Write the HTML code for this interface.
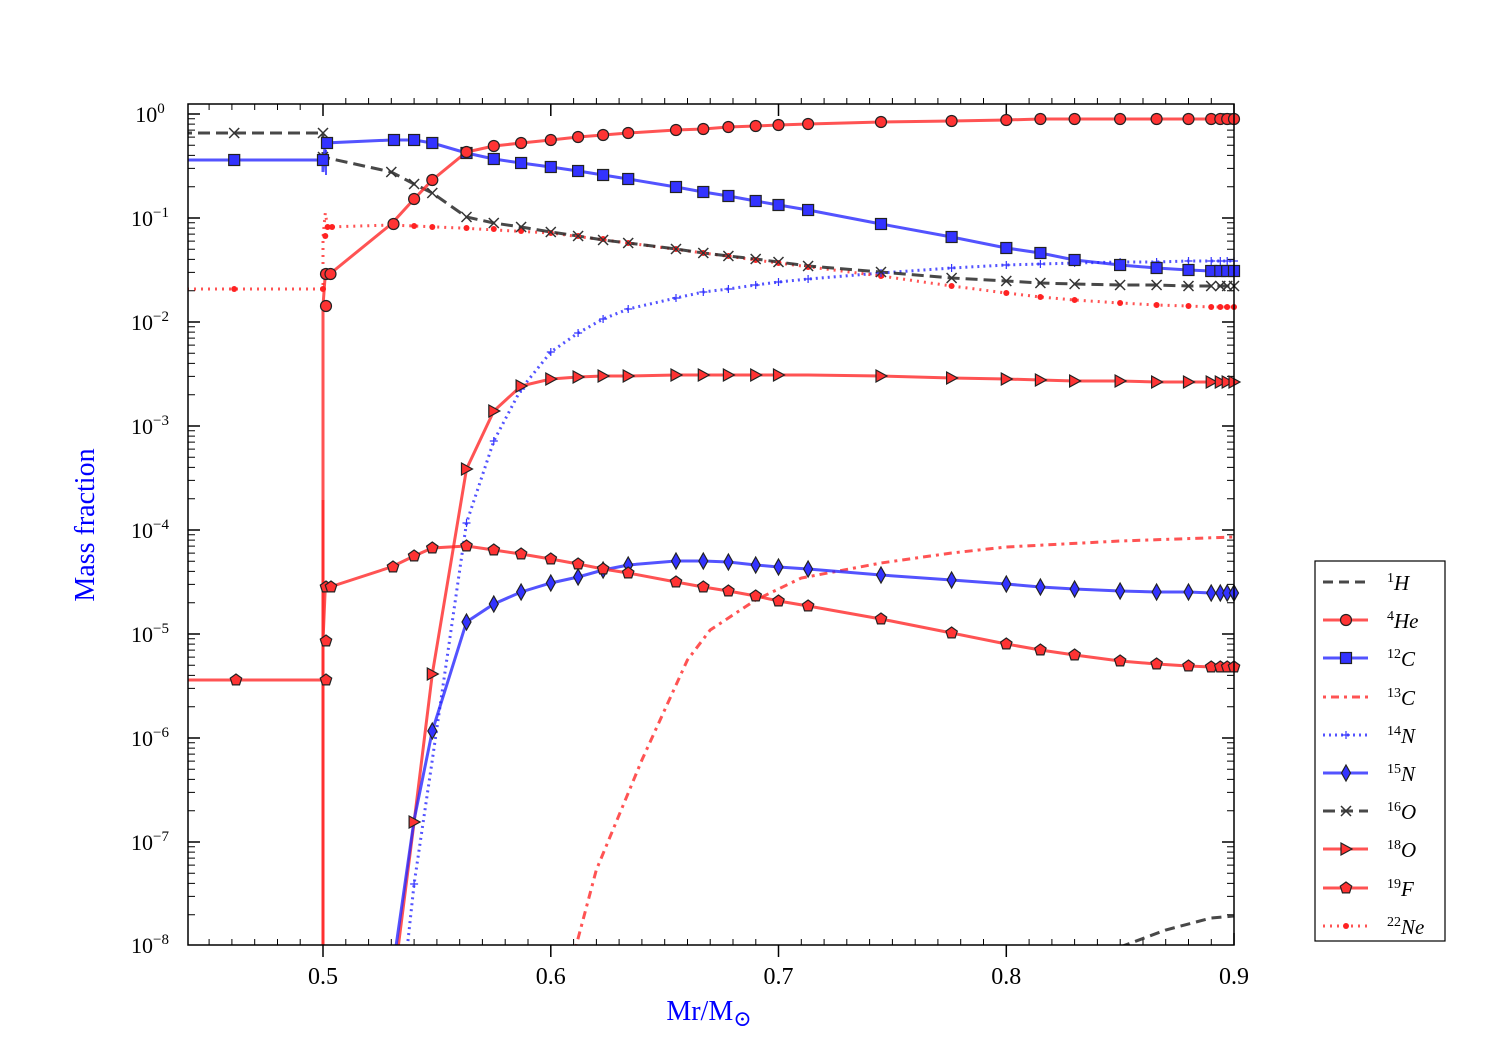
<!DOCTYPE html>
<html><head><meta charset="utf-8"><style>
html,body{margin:0;padding:0;background:#fff;width:1500px;height:1050px;overflow:hidden}
svg{font-family:"Liberation Serif","DejaVu Serif",serif;display:block}
</style></head><body>
<svg width="1500" height="1050" xmlns="http://www.w3.org/2000/svg" xmlns:xlink="http://www.w3.org/1999/xlink">
<defs>
<clipPath id="c"><rect x="188" y="104" width="1046" height="841"/></clipPath>
<circle id="o" r="5.5" fill="#f33" stroke="#222" stroke-width="1.2"/>
<rect id="s" x="-5.5" y="-5.5" width="11" height="11" fill="#33f" stroke="#222" stroke-width="1.2"/>
<polygon id="d" points="0,-8 4.5,0 0,8 -4.5,0" fill="#33f" stroke="#222" stroke-width="1.2"/>
<polygon id="t" points="-5,-6 6,0 -5,6" fill="#f33" stroke="#222" stroke-width="1.2"/>
<polygon id="p" points="0,-6 5.71,-1.85 3.53,4.85 -3.53,4.85 -5.71,-1.85" fill="#f33" stroke="#222" stroke-width="1.2"/>
<path id="x" d="M-5,-5L5,5M-5,5L5,-5" stroke="#333" stroke-width="1.5"/>
<path id="pl" d="M-4,0L4,0M0,-4L0,4" stroke="#33f" stroke-width="1.2"/>
<circle id="dt" r="3" fill="#f22"/>
<g id="dec" stroke="#000">
<path d="M188,0h12M1234,0h-12" stroke-width="1.5"/>
<path d="M188,72.7h7M188,54.4h7M188,41.4h7M188,31.3h7M188,23.1h7M188,16.1h7M188,10.1h7M188,4.8h7M1234,72.7h-7M1234,54.4h-7M1234,41.4h-7M1234,31.3h-7M1234,23.1h-7M1234,16.1h-7M1234,10.1h-7M1234,4.8h-7"/>
</g>
<g id="xm" stroke="#000">
<path d="M0,0v12M0,-841v12" stroke-width="1.5"/>
<path d="M22.8,0v6M45.6,0v6M68.3,0v6M91.1,0v6M113.9,0v6M136.7,0v6M159.4,0v6M182.2,0v6M205,0v6M22.8,-841v6M45.6,-841v6M68.3,-841v6M91.1,-841v6M113.9,-841v6M136.7,-841v6M159.4,-841v6M182.2,-841v6M205,-841v6" transform="translate(0,-6)"/>
</g>
</defs>

<!-- y ticks -->
<use href="#dec" xlink:href="#dec" y="114"/>
<use href="#dec" xlink:href="#dec" y="218"/>
<use href="#dec" xlink:href="#dec" y="322"/>
<use href="#dec" xlink:href="#dec" y="426"/>
<use href="#dec" xlink:href="#dec" y="530"/>
<use href="#dec" xlink:href="#dec" y="634"/>
<use href="#dec" xlink:href="#dec" y="738"/>
<use href="#dec" xlink:href="#dec" y="842"/>
<g font-size="22" text-anchor="middle">
<text x="150" y="122">10<tspan dy="-9" font-size="15">0</tspan></text>
<text x="150" y="226">10<tspan dy="-9" font-size="15">−1</tspan></text>
<text x="150" y="330">10<tspan dy="-9" font-size="15">−2</tspan></text>
<text x="150" y="434">10<tspan dy="-9" font-size="15">−3</tspan></text>
<text x="150" y="538">10<tspan dy="-9" font-size="15">−4</tspan></text>
<text x="150" y="642">10<tspan dy="-9" font-size="15">−5</tspan></text>
<text x="150" y="746">10<tspan dy="-9" font-size="15">−6</tspan></text>
<text x="150" y="850">10<tspan dy="-9" font-size="15">−7</tspan></text>
<text x="150" y="953">10<tspan dy="-9" font-size="15">−8</tspan></text>
</g>
<!-- x ticks -->
<use href="#xm" xlink:href="#xm" x="323" y="945"/>
<use href="#xm" xlink:href="#xm" x="550.8" y="945"/>
<use href="#xm" xlink:href="#xm" x="778.5" y="945"/>
<use href="#xm" xlink:href="#xm" x="1006.3" y="945"/>
<path d="M1234,945v-12M1234,104v12" stroke="#000" stroke-width="1.5"/>
<path d="M300.2,945v-6M277.5,945v-6M254.7,945v-6M231.9,945v-6M209.1,945v-6M300.2,104v6M277.5,104v6M254.7,104v6M231.9,104v6M209.1,104v6" stroke="#000"/>
<g font-size="24" text-anchor="middle">
<text x="323" y="984">0.5</text><text x="550.8" y="984">0.6</text><text x="778.5" y="984">0.7</text><text x="1006.3" y="984">0.8</text><text x="1234" y="984">0.9</text>
</g>

<g clip-path="url(#c)" fill="none" stroke-width="3">
<!-- 1H -->
<polyline stroke="rgba(40,40,40,0.85)" stroke-dasharray="10,6" points="1120.1,947 1165.7,930 1211.2,918 1234,916"/>
<!-- 13C -->
<polyline stroke="rgba(255,40,40,0.8)" stroke-dasharray="3,5,8,5" points="575.8,947 596.3,870 641.9,760 687.4,660 710.2,630 755.7,600 801.3,578 881,563 951.6,553 1006.3,547 1120.1,541 1234,537"/>
<!-- 14N -->
<polyline stroke="rgba(40,40,255,0.8)" stroke-dasharray="2,4" points="407.3,947 414.1,884 432.3,760 466.5,523 493.8,441 521.1,389 550.8,352 578.1,333 603.1,319 628.2,309 676,298 703.3,292 728.4,289 755.7,285 778.5,282 808.1,279 881,273 951.6,268 1006.3,265 1040.4,264 1074.6,263 1120.1,262 1156.6,262 1188.5,261 1234,261"/>
<!-- 22Ne -->
<polyline stroke="rgba(255,40,40,0.8)" stroke-dasharray="2,5" points="180,289 323,289 323,237 325.3,213 327.6,227 391.3,225 459.7,228 550.8,233 628.2,243 703.3,253 778.5,263 881,276 951.6,286 1006.3,293 1040.4,297 1074.6,300 1120.1,303 1156.6,305 1188.5,306 1211.2,307 1234,307"/>
<!-- 16O -->
<polyline stroke="rgba(40,40,40,0.85)" stroke-dasharray="12,6" points="180,133 323,133 323,157 391.3,172 414.1,184 432.3,193 466.5,217 493.8,223 521.1,227 550.8,232 578.1,236 603.1,240 628.2,243 676,249 703.3,253 728.4,256 755.7,259 778.5,262 808.1,266 881,272 951.6,278 1006.3,281 1040.4,283 1074.6,284 1120.1,285 1156.6,285 1188.5,286 1234,286"/>
<!-- 12C -->
<polyline stroke="rgba(40,40,255,0.8)" points="180,160 323,160 323,172 325.3,143 391.3,140 414.1,140 432.3,143 466.5,153 493.8,159 521.1,163 550.8,167 578.1,171 603.1,175 628.2,179 676,187 703.3,192 728.4,196 755.7,201 778.5,205 808.1,210 881,224 951.6,237 1006.3,248 1040.4,253 1074.6,260 1120.1,265 1156.6,268 1188.5,270 1211.2,271 1234,271"/>
<!-- 4He -->
<polyline stroke="rgba(255,40,40,0.8)" points="323,947 323,306 325.3,274 329.8,274 391.3,224 414.1,199 432.3,180 466.5,152 493.8,146 521.1,143 550.8,140 578.1,137 603.1,135 628.2,133 676,130 703.3,129 728.4,127 755.7,126 778.5,125 808.1,124 881,122 951.6,121 1006.3,120 1040.4,119 1234,119"/>
<!-- 18O -->
<polyline stroke="rgba(255,40,40,0.8)" points="398.2,947 414.1,822 432.3,674 466.5,469 493.8,411 521.1,386 550.8,379 578.1,377 603.1,376 628.2,376 676,375 808.1,375 881,376 951.6,378 1006.3,379 1040.4,380 1074.6,381 1120.1,381 1156.6,382 1234,382"/>
<!-- 15N -->
<polyline stroke="rgba(40,40,255,0.8)" points="395.9,947 414.1,820 432.3,731 466.5,622 493.8,604 521.1,592 550.8,583 578.1,577 603.1,570 628.2,565 676,561 703.3,561 728.4,562 755.7,565 778.5,567 808.1,569 881,575 951.6,580 1006.3,584 1040.4,587 1074.6,589 1120.1,591 1156.6,592 1188.5,592 1211.2,593 1234,593"/>
<!-- 19F -->
<polyline stroke="rgba(255,40,40,0.8)" points="180,680 323,680 323,947 323,500 323,641 325.3,587 329.8,587 391.3,567 414.1,556 432.3,548 466.5,546 493.8,550 521.1,554 550.8,559 578.1,564 603.1,569 628.2,573 676,582 703.3,587 728.4,591 755.7,596 778.5,601 808.1,606 881,619 951.6,633 1006.3,644 1040.4,650 1074.6,655 1120.1,661 1156.6,664 1188.5,666 1211.2,667 1234,667"/>
<line x1="326" y1="150" x2="326" y2="175" stroke="rgba(40,40,255,0.8)" stroke-width="2"/>
</g>

<!-- markers -->
<g>
<!-- 22Ne dots -->
<use href="#dt" xlink:href="#dt" x="234.2" y="289"/><use href="#dt" xlink:href="#dt" x="323" y="289"/><use href="#dt" xlink:href="#dt" x="325.3" y="236"/><use href="#dt" xlink:href="#dt" x="327.6" y="227"/><use href="#dt" xlink:href="#dt" x="332.1" y="227"/><use href="#dt" xlink:href="#dt" x="391.3" y="225"/><use href="#dt" xlink:href="#dt" x="414.1" y="226"/><use href="#dt" xlink:href="#dt" x="432.3" y="227"/><use href="#dt" xlink:href="#dt" x="466.5" y="228"/><use href="#dt" xlink:href="#dt" x="493.8" y="229"/><use href="#dt" xlink:href="#dt" x="521.1" y="231"/><use href="#dt" xlink:href="#dt" x="550.8" y="233"/><use href="#dt" xlink:href="#dt" x="578.1" y="236"/><use href="#dt" xlink:href="#dt" x="603.1" y="239"/><use href="#dt" xlink:href="#dt" x="628.2" y="243"/><use href="#dt" xlink:href="#dt" x="676" y="249"/><use href="#dt" xlink:href="#dt" x="703.3" y="253"/><use href="#dt" xlink:href="#dt" x="728.4" y="256"/><use href="#dt" xlink:href="#dt" x="755.7" y="260"/><use href="#dt" xlink:href="#dt" x="778.5" y="263"/><use href="#dt" xlink:href="#dt" x="808.1" y="267"/><use href="#dt" xlink:href="#dt" x="881" y="276"/><use href="#dt" xlink:href="#dt" x="951.6" y="286"/><use href="#dt" xlink:href="#dt" x="1006.3" y="293"/><use href="#dt" xlink:href="#dt" x="1040.4" y="297"/><use href="#dt" xlink:href="#dt" x="1074.6" y="300"/><use href="#dt" xlink:href="#dt" x="1120.1" y="303"/><use href="#dt" xlink:href="#dt" x="1156.6" y="305"/><use href="#dt" xlink:href="#dt" x="1188.5" y="306"/><use href="#dt" xlink:href="#dt" x="1211.2" y="307"/><use href="#dt" xlink:href="#dt" x="1220.3" y="307"/><use href="#dt" xlink:href="#dt" x="1227.2" y="307"/><use href="#dt" xlink:href="#dt" x="1234" y="307"/>
<!-- 14N plus -->
<use href="#pl" xlink:href="#pl" x="414.1" y="884"/><use href="#pl" xlink:href="#pl" x="466.5" y="523"/><use href="#pl" xlink:href="#pl" x="493.8" y="441"/><use href="#pl" xlink:href="#pl" x="521.1" y="389"/><use href="#pl" xlink:href="#pl" x="550.8" y="352"/><use href="#pl" xlink:href="#pl" x="578.1" y="333"/><use href="#pl" xlink:href="#pl" x="603.1" y="319"/><use href="#pl" xlink:href="#pl" x="628.2" y="309"/><use href="#pl" xlink:href="#pl" x="676" y="298"/><use href="#pl" xlink:href="#pl" x="703.3" y="292"/><use href="#pl" xlink:href="#pl" x="728.4" y="289"/><use href="#pl" xlink:href="#pl" x="755.7" y="285"/><use href="#pl" xlink:href="#pl" x="778.5" y="282"/><use href="#pl" xlink:href="#pl" x="808.1" y="279"/><use href="#pl" xlink:href="#pl" x="881" y="273"/><use href="#pl" xlink:href="#pl" x="951.6" y="268"/><use href="#pl" xlink:href="#pl" x="1006.3" y="265"/><use href="#pl" xlink:href="#pl" x="1040.4" y="264"/><use href="#pl" xlink:href="#pl" x="1074.6" y="263"/><use href="#pl" xlink:href="#pl" x="1120.1" y="262"/><use href="#pl" xlink:href="#pl" x="1156.6" y="262"/><use href="#pl" xlink:href="#pl" x="1188.5" y="261"/><use href="#pl" xlink:href="#pl" x="1211.2" y="261"/><use href="#pl" xlink:href="#pl" x="1220.3" y="261"/><use href="#pl" xlink:href="#pl" x="1227.2" y="261"/><use href="#pl" xlink:href="#pl" x="1234" y="261"/>
<!-- 16O x -->
<use href="#x" xlink:href="#x" x="234.2" y="133"/><use href="#x" xlink:href="#x" x="323" y="133"/><use href="#x" xlink:href="#x" x="323" y="157"/><use href="#x" xlink:href="#x" x="391.3" y="172"/><use href="#x" xlink:href="#x" x="414.1" y="184"/><use href="#x" xlink:href="#x" x="432.3" y="193"/><use href="#x" xlink:href="#x" x="466.5" y="217"/><use href="#x" xlink:href="#x" x="493.8" y="223"/><use href="#x" xlink:href="#x" x="521.1" y="227"/><use href="#x" xlink:href="#x" x="550.8" y="232"/><use href="#x" xlink:href="#x" x="578.1" y="236"/><use href="#x" xlink:href="#x" x="603.1" y="240"/><use href="#x" xlink:href="#x" x="628.2" y="243"/><use href="#x" xlink:href="#x" x="676" y="249"/><use href="#x" xlink:href="#x" x="703.3" y="253"/><use href="#x" xlink:href="#x" x="728.4" y="256"/><use href="#x" xlink:href="#x" x="755.7" y="259"/><use href="#x" xlink:href="#x" x="778.5" y="262"/><use href="#x" xlink:href="#x" x="808.1" y="266"/><use href="#x" xlink:href="#x" x="881" y="272"/><use href="#x" xlink:href="#x" x="951.6" y="278"/><use href="#x" xlink:href="#x" x="1006.3" y="281"/><use href="#x" xlink:href="#x" x="1040.4" y="283"/><use href="#x" xlink:href="#x" x="1074.6" y="284"/><use href="#x" xlink:href="#x" x="1120.1" y="285"/><use href="#x" xlink:href="#x" x="1156.6" y="285"/><use href="#x" xlink:href="#x" x="1188.5" y="286"/><use href="#x" xlink:href="#x" x="1211.2" y="286"/><use href="#x" xlink:href="#x" x="1220.3" y="286"/><use href="#x" xlink:href="#x" x="1227.2" y="286"/><use href="#x" xlink:href="#x" x="1234" y="286"/>
<!-- 12C squares -->
<use href="#s" xlink:href="#s" x="234.2" y="160"/><use href="#s" xlink:href="#s" x="323" y="160"/><use href="#s" xlink:href="#s" x="327" y="143"/><use href="#s" xlink:href="#s" x="394" y="140"/><use href="#s" xlink:href="#s" x="414.1" y="140"/><use href="#s" xlink:href="#s" x="432.3" y="143"/><use href="#s" xlink:href="#s" x="466.5" y="153"/><use href="#s" xlink:href="#s" x="493.8" y="159"/><use href="#s" xlink:href="#s" x="521.1" y="163"/><use href="#s" xlink:href="#s" x="550.8" y="167"/><use href="#s" xlink:href="#s" x="578.1" y="171"/><use href="#s" xlink:href="#s" x="603.1" y="175"/><use href="#s" xlink:href="#s" x="628.2" y="179"/><use href="#s" xlink:href="#s" x="676" y="187"/><use href="#s" xlink:href="#s" x="703.3" y="192"/><use href="#s" xlink:href="#s" x="728.4" y="196"/><use href="#s" xlink:href="#s" x="755.7" y="201"/><use href="#s" xlink:href="#s" x="778.5" y="205"/><use href="#s" xlink:href="#s" x="808.1" y="210"/><use href="#s" xlink:href="#s" x="881" y="224"/><use href="#s" xlink:href="#s" x="951.6" y="237"/><use href="#s" xlink:href="#s" x="1006.3" y="248"/><use href="#s" xlink:href="#s" x="1040.4" y="253"/><use href="#s" xlink:href="#s" x="1074.6" y="260"/><use href="#s" xlink:href="#s" x="1120.1" y="265"/><use href="#s" xlink:href="#s" x="1156.6" y="268"/><use href="#s" xlink:href="#s" x="1188.5" y="270"/><use href="#s" xlink:href="#s" x="1211.2" y="271"/><use href="#s" xlink:href="#s" x="1220.3" y="271"/><use href="#s" xlink:href="#s" x="1227.2" y="271"/><use href="#s" xlink:href="#s" x="1234" y="271"/>
<!-- 4He circles -->
<use href="#o" xlink:href="#o" x="326" y="306"/><use href="#o" xlink:href="#o" x="326" y="274"/><use href="#o" xlink:href="#o" x="330.5" y="274"/><use href="#o" xlink:href="#o" x="393.5" y="224"/><use href="#o" xlink:href="#o" x="414.1" y="199"/><use href="#o" xlink:href="#o" x="432.3" y="180"/><use href="#o" xlink:href="#o" x="466.5" y="152"/><use href="#o" xlink:href="#o" x="493.8" y="146"/><use href="#o" xlink:href="#o" x="521.1" y="143"/><use href="#o" xlink:href="#o" x="550.8" y="140"/><use href="#o" xlink:href="#o" x="578.1" y="137"/><use href="#o" xlink:href="#o" x="603.1" y="135"/><use href="#o" xlink:href="#o" x="628.2" y="133"/><use href="#o" xlink:href="#o" x="676" y="130"/><use href="#o" xlink:href="#o" x="703.3" y="129"/><use href="#o" xlink:href="#o" x="728.4" y="127"/><use href="#o" xlink:href="#o" x="755.7" y="126"/><use href="#o" xlink:href="#o" x="778.5" y="125"/><use href="#o" xlink:href="#o" x="808.1" y="124"/><use href="#o" xlink:href="#o" x="881" y="122"/><use href="#o" xlink:href="#o" x="951.6" y="121"/><use href="#o" xlink:href="#o" x="1006.3" y="120"/><use href="#o" xlink:href="#o" x="1040.4" y="119"/><use href="#o" xlink:href="#o" x="1074.6" y="119"/><use href="#o" xlink:href="#o" x="1120.1" y="119"/><use href="#o" xlink:href="#o" x="1156.6" y="119"/><use href="#o" xlink:href="#o" x="1188.5" y="119"/><use href="#o" xlink:href="#o" x="1211.2" y="119"/><use href="#o" xlink:href="#o" x="1220.3" y="119"/><use href="#o" xlink:href="#o" x="1227.2" y="119"/><use href="#o" xlink:href="#o" x="1234" y="119"/>
<!-- 18O triangles -->
<use href="#t" xlink:href="#t" x="414.1" y="822"/><use href="#t" xlink:href="#t" x="432.3" y="674"/><use href="#t" xlink:href="#t" x="466.5" y="469"/><use href="#t" xlink:href="#t" x="493.8" y="411"/><use href="#t" xlink:href="#t" x="521.1" y="386"/><use href="#t" xlink:href="#t" x="550.8" y="379"/><use href="#t" xlink:href="#t" x="578.1" y="377"/><use href="#t" xlink:href="#t" x="603.1" y="376"/><use href="#t" xlink:href="#t" x="628.2" y="376"/><use href="#t" xlink:href="#t" x="676" y="375"/><use href="#t" xlink:href="#t" x="703.3" y="375"/><use href="#t" xlink:href="#t" x="728.4" y="375"/><use href="#t" xlink:href="#t" x="755.7" y="375"/><use href="#t" xlink:href="#t" x="778.5" y="375"/><use href="#t" xlink:href="#t" x="881" y="376"/><use href="#t" xlink:href="#t" x="951.6" y="378"/><use href="#t" xlink:href="#t" x="1006.3" y="379"/><use href="#t" xlink:href="#t" x="1040.4" y="380"/><use href="#t" xlink:href="#t" x="1074.6" y="381"/><use href="#t" xlink:href="#t" x="1120.1" y="381"/><use href="#t" xlink:href="#t" x="1156.6" y="382"/><use href="#t" xlink:href="#t" x="1188.5" y="382"/><use href="#t" xlink:href="#t" x="1211.2" y="382"/><use href="#t" xlink:href="#t" x="1220.3" y="382"/><use href="#t" xlink:href="#t" x="1227.2" y="382"/><use href="#t" xlink:href="#t" x="1234" y="382"/>
<!-- 15N diamonds -->
<use href="#d" xlink:href="#d" x="432.3" y="731"/><use href="#d" xlink:href="#d" x="466.5" y="622"/><use href="#d" xlink:href="#d" x="493.8" y="604"/><use href="#d" xlink:href="#d" x="521.1" y="592"/><use href="#d" xlink:href="#d" x="550.8" y="583"/><use href="#d" xlink:href="#d" x="578.1" y="577"/><use href="#d" xlink:href="#d" x="603.1" y="570"/><use href="#d" xlink:href="#d" x="628.2" y="565"/><use href="#d" xlink:href="#d" x="676" y="561"/><use href="#d" xlink:href="#d" x="703.3" y="561"/><use href="#d" xlink:href="#d" x="728.4" y="562"/><use href="#d" xlink:href="#d" x="755.7" y="565"/><use href="#d" xlink:href="#d" x="778.5" y="567"/><use href="#d" xlink:href="#d" x="808.1" y="569"/><use href="#d" xlink:href="#d" x="881" y="575"/><use href="#d" xlink:href="#d" x="951.6" y="580"/><use href="#d" xlink:href="#d" x="1006.3" y="584"/><use href="#d" xlink:href="#d" x="1040.4" y="587"/><use href="#d" xlink:href="#d" x="1074.6" y="589"/><use href="#d" xlink:href="#d" x="1120.1" y="591"/><use href="#d" xlink:href="#d" x="1156.6" y="592"/><use href="#d" xlink:href="#d" x="1188.5" y="592"/><use href="#d" xlink:href="#d" x="1211.2" y="593"/><use href="#d" xlink:href="#d" x="1220.3" y="593"/><use href="#d" xlink:href="#d" x="1227.2" y="593"/><use href="#d" xlink:href="#d" x="1234" y="593"/>
<!-- 19F pentagons -->
<use href="#p" xlink:href="#p" x="236" y="680"/><use href="#p" xlink:href="#p" x="326" y="680"/><use href="#p" xlink:href="#p" x="326" y="641"/><use href="#p" xlink:href="#p" x="326" y="587"/><use href="#p" xlink:href="#p" x="331" y="587"/><use href="#p" xlink:href="#p" x="393" y="567"/><use href="#p" xlink:href="#p" x="414.1" y="556"/><use href="#p" xlink:href="#p" x="432.3" y="548"/><use href="#p" xlink:href="#p" x="466.5" y="546"/><use href="#p" xlink:href="#p" x="493.8" y="550"/><use href="#p" xlink:href="#p" x="521.1" y="554"/><use href="#p" xlink:href="#p" x="550.8" y="559"/><use href="#p" xlink:href="#p" x="578.1" y="564"/><use href="#p" xlink:href="#p" x="603.1" y="569"/><use href="#p" xlink:href="#p" x="628.2" y="573"/><use href="#p" xlink:href="#p" x="676" y="582"/><use href="#p" xlink:href="#p" x="703.3" y="587"/><use href="#p" xlink:href="#p" x="728.4" y="591"/><use href="#p" xlink:href="#p" x="755.7" y="596"/><use href="#p" xlink:href="#p" x="778.5" y="601"/><use href="#p" xlink:href="#p" x="808.1" y="606"/><use href="#p" xlink:href="#p" x="881" y="619"/><use href="#p" xlink:href="#p" x="951.6" y="633"/><use href="#p" xlink:href="#p" x="1006.3" y="644"/><use href="#p" xlink:href="#p" x="1040.4" y="650"/><use href="#p" xlink:href="#p" x="1074.6" y="655"/><use href="#p" xlink:href="#p" x="1120.1" y="661"/><use href="#p" xlink:href="#p" x="1156.6" y="664"/><use href="#p" xlink:href="#p" x="1188.5" y="666"/><use href="#p" xlink:href="#p" x="1211.2" y="667"/><use href="#p" xlink:href="#p" x="1220.3" y="667"/><use href="#p" xlink:href="#p" x="1227.2" y="667"/><use href="#p" xlink:href="#p" x="1234" y="667"/>
</g>

<rect x="188" y="104" width="1046" height="841" fill="none" stroke="#000" stroke-width="1.5"/>
<text x="709" y="1020" font-size="28" fill="#00f" text-anchor="middle">Mr/M<tspan font-size="22" dy="6">⊙</tspan></text>
<text transform="translate(94,525) rotate(-90)" font-size="28" fill="#00f" text-anchor="middle">Mass fraction</text>

<!-- legend -->
<rect x="1315" y="561" width="130" height="380" fill="#fff" stroke="#000" stroke-width="1.2"/>
<g stroke-width="3" fill="none">
<line x1="1323" x2="1368" y1="582" y2="582" stroke="rgba(40,40,40,0.85)" stroke-dasharray="10,6"/>
<line x1="1323" x2="1368" y1="620" y2="620" stroke="rgba(255,40,40,0.8)"/>
<line x1="1323" x2="1368" y1="658" y2="658" stroke="rgba(40,40,255,0.8)"/>
<line x1="1323" x2="1368" y1="697" y2="697" stroke="rgba(255,40,40,0.8)" stroke-dasharray="3,5,8,5"/>
<line x1="1323" x2="1368" y1="735" y2="735" stroke="rgba(40,40,255,0.8)" stroke-dasharray="2,4"/>
<line x1="1323" x2="1368" y1="773" y2="773" stroke="rgba(40,40,255,0.8)"/>
<line x1="1323" x2="1368" y1="811" y2="811" stroke="rgba(40,40,40,0.85)" stroke-dasharray="12,6"/>
<line x1="1323" x2="1368" y1="849" y2="849" stroke="rgba(255,40,40,0.8)"/>
<line x1="1323" x2="1368" y1="888" y2="888" stroke="rgba(255,40,40,0.8)"/>
<line x1="1323" x2="1368" y1="926" y2="926" stroke="rgba(255,40,40,0.8)" stroke-dasharray="2,5"/>
</g>
<use href="#o" xlink:href="#o" x="1346" y="620"/>
<use href="#s" xlink:href="#s" x="1346" y="658"/>
<use href="#pl" xlink:href="#pl" x="1346" y="735"/>
<use href="#d" xlink:href="#d" x="1346" y="773"/>
<use href="#x" xlink:href="#x" x="1346" y="811"/>
<use href="#t" xlink:href="#t" x="1346" y="849"/>
<use href="#p" xlink:href="#p" x="1346" y="888"/>
<use href="#dt" xlink:href="#dt" x="1346" y="926"/>
<g font-size="21">
<text x="1387" y="590"><tspan font-size="14" dy="-8">1</tspan><tspan font-style="italic" dy="8">H</tspan></text>
<text x="1387" y="628"><tspan font-size="14" dy="-8">4</tspan><tspan font-style="italic" dy="8">He</tspan></text>
<text x="1387" y="666"><tspan font-size="14" dy="-8">12</tspan><tspan font-style="italic" dy="8">C</tspan></text>
<text x="1387" y="705"><tspan font-size="14" dy="-8">13</tspan><tspan font-style="italic" dy="8">C</tspan></text>
<text x="1387" y="743"><tspan font-size="14" dy="-8">14</tspan><tspan font-style="italic" dy="8">N</tspan></text>
<text x="1387" y="781"><tspan font-size="14" dy="-8">15</tspan><tspan font-style="italic" dy="8">N</tspan></text>
<text x="1387" y="819"><tspan font-size="14" dy="-8">16</tspan><tspan font-style="italic" dy="8">O</tspan></text>
<text x="1387" y="857"><tspan font-size="14" dy="-8">18</tspan><tspan font-style="italic" dy="8">O</tspan></text>
<text x="1387" y="896"><tspan font-size="14" dy="-8">19</tspan><tspan font-style="italic" dy="8">F</tspan></text>
<text x="1387" y="934"><tspan font-size="14" dy="-8">22</tspan><tspan font-style="italic" dy="8">Ne</tspan></text>
</g>
</svg>
</body></html>
